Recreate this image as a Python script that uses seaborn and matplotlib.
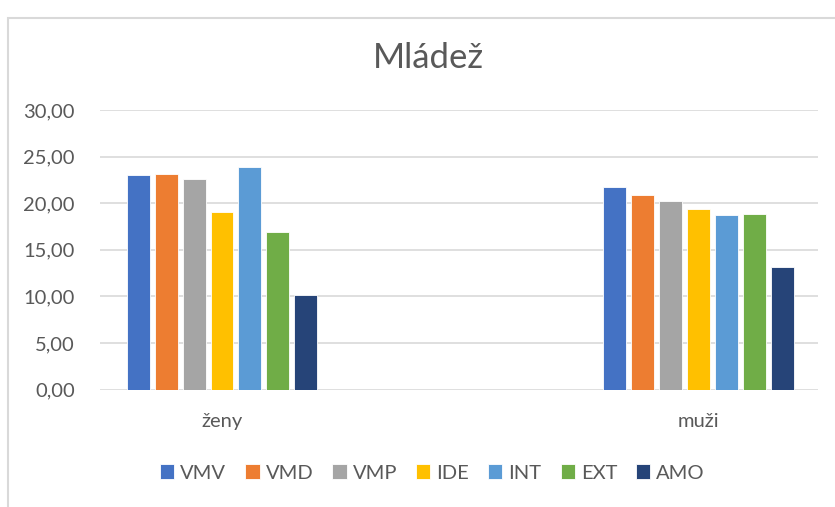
import pandas as pd
import seaborn as sns
import matplotlib.pyplot as plt
from matplotlib.patches import Rectangle
from matplotlib.ticker import FuncFormatter

groups = ['ženy', 'muži']
series = ['VMV', 'VMD', 'VMP', 'IDE', 'INT', 'EXT', 'AMO']
zeny = [23.06, 23.14, 22.63, 19.09, 23.89, 16.94, 10.13]
muzi = [21.77, 20.88, 20.19, 19.33, 18.73, 18.87, 13.10]
colors = ['#4472C4', '#ED7D31', '#A5A5A5', '#FFC000', '#5B9BD5', '#70AD47', '#264478']

rows = []
for s, a, b in zip(series, zeny, muzi):
    rows.append((groups[0], s, a))
    rows.append((groups[1], s, b))
df = pd.DataFrame(rows, columns=['skupina', 'skala', 'hodnota'])

sns.set_theme(style='white')
plt.rcParams['font.family'] = ['Lato', 'DejaVu Sans']
txt = '#595959'

fig = plt.figure(figsize=(8.35, 5.07), dpi=100)
ax = fig.add_axes([100/835, 1-389.5/507, 718/835, 279.5/507])

sns.barplot(data=df, x='skupina', y='hodnota', hue='skala', order=groups,
            hue_order=series, palette=colors, saturation=1, width=0.41, gap=0.18,
            edgecolor='white', linewidth=0.6, ax=ax, zorder=3)

ax.set_ylim(0, 30)
ax.set_xlim(-0.256, 1.251)
ax.set_yticks([0, 5, 10, 15, 20, 25, 30])
ax.yaxis.set_major_formatter(FuncFormatter(lambda v, p: f'{v:.2f}'.replace('.', ',')))
ax.grid(axis='y', color='#D9D9D9', linewidth=1.2, zorder=0)
ax.set_axisbelow(True)
for sp in ax.spines.values():
    sp.set_visible(False)
ax.tick_params(axis='y', length=0, pad=18, labelsize=14.5, labelcolor=txt)
ax.tick_params(axis='x', length=0, pad=17, labelsize=14.5, labelcolor=txt)
ax.set_xlabel('')
ax.set_ylabel('')

fig.text(428/835, 1-58/507, 'Mládež', ha='center', va='center', fontsize=25, color=txt)

h, l = ax.get_legend_handles_labels()
ax.legend_.remove()
fig.legend(h, l, loc='center', bbox_to_anchor=(0.518, 1-473/507), ncol=7,
           frameon=False, handlelength=0.7, handleheight=0.7, handletextpad=0.3,
           columnspacing=0.95, fontsize=14.5, labelcolor=txt)

fig.patches.append(Rectangle((8/835, -0.05), 1.0, 1.05-18/507, transform=fig.transFigure,
                             fill=False, edgecolor='#D9D9D9', linewidth=1.5))

plt.savefig('out.png', dpi=100)
